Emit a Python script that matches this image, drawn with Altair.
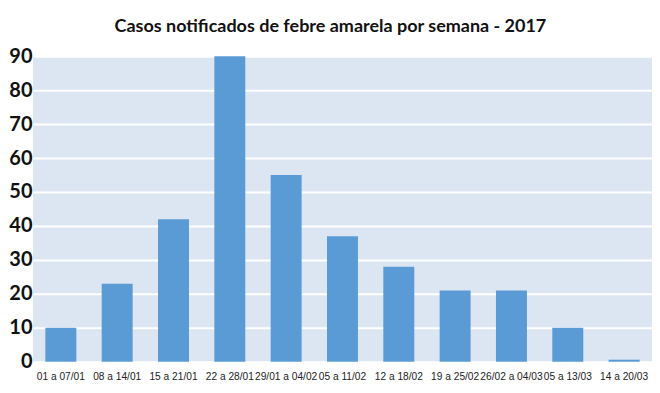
import altair as alt
import pandas as pd

semanas = ["01 a 07/01", "08 a 14/01", "15 a 21/01", "22 a 28/01", "29/01 a 04/02",
           "05 a 11/02", "12 a 18/02", "19 a 25/02", "26/02 a 04/03", "05 a 13/03", "14 a 20/03"]
casos = [10, 23, 42, 90, 55, 37, 28, 21, 21, 10, 0.6]

df = pd.DataFrame({"semana": semanas, "casos": casos})

chart = alt.Chart(df).mark_bar(color="#5B9BD5").encode(
    x=alt.X("semana:N", sort=semanas, title=None,
            scale=alt.Scale(paddingInner=0.45, paddingOuter=0.22),
            axis=alt.Axis(labelAngle=0, labelFont="Liberation Sans", labelFontSize=10.2,
                          labelColor="#222222", ticks=False, domain=False, labelPadding=10)),
    y=alt.Y("casos:Q", title=None,
            scale=alt.Scale(domain=[0, 90], nice=False),
            axis=alt.Axis(values=list(range(0, 91, 10)), labelFont="Lato", labelFontWeight="bold",
                          labelFontSize=20, labelColor="#111111", ticks=False, domain=False,
                          labelPadding=1, grid=True, gridColor="white", gridWidth=2)),
).properties(
    width=620, height=306,
    background="white",
    title=alt.TitleParams("Casos notificados de febre amarela por semana - 2017",
                          font="Lato", fontSize=18, fontWeight="bold", color="#111111",
                          anchor="middle", frame="bounds", offset=10),
    padding={"left": 0, "top": 10, "right": 0, "bottom": 0},
).configure_view(fill="#DCE6F2", strokeWidth=0)

chart.save("out.html", embed_options={"renderer": "svg", "actions": False})
